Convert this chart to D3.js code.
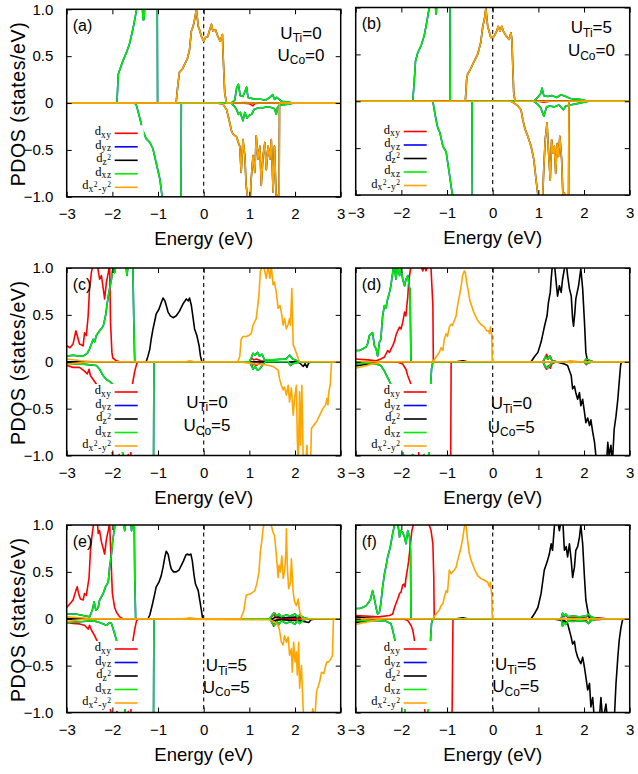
<!DOCTYPE html>
<html><head><meta charset="utf-8">
<script src="https://cdn.jsdelivr.net/npm/d3@7/dist/d3.min.js"></script>
<style>body{margin:0;background:#fff}svg{display:block}</style>
</head><body>
<svg id="chart" width="638" height="774"></svg>
<script>
// ---------- tick values / labels ----------
const energyTicks = [-3,-2,-1,0,1,2,3];
const energyTickLabels = ["\u22123","\u22122","\u22121","0","1","2","3"];
const pdosTicks = [-1,-0.5,0,0.5,1];
const pdosTickLabels = ["\u22121.0","\u22120.5","0","0.5","1.0"];
const orbitals = ["xy","yz","z2","xz","x2y2"];
const orbitalColors = ["#ff0000","#0000ff","#000000","#00ee00","#ffa500"];
const panelLetters = ["(a)","(b)","(c)","(d)","(e)","(f)"];
const uTiValues = [0,5,0,0,5,5];
const uCoValues = [0,0,5,5,5,5];

// ---------- panel (a): U_Ti=0, U_Co=0 ----------
const a_xy_up = [[-3,0],[0.7,0],[0.9,0.005],[1.1,0],[3,0]];
const a_xy_dn = [[-3,0],[0.8,0],[1.0,-0.008],[1.08,-0.03],[1.12,-0.005],[1.3,0],[3,0]];
const a_xz_up = [[-3,0],[-1.95,0],[-1.90,0],[-1.87,0.31],[-1.82,0.38],[-1.77,0.45],[-1.69,0.54],[-1.62,0.64],[-1.55,0.79],[-1.51,0.89],[-1.47,1.0],[-1.44,1.15],[-1.36,1.2],[-1.33,0.89],[-1.31,0.89],[-1.28,1.1],[-1.2,1.3],[-1.1,1.4],[-1.02,1.5],[-1.01,0],[0.6,0],[0.68,0.03],[0.72,0.16],[0.76,0.2],[0.80,0.08],[0.86,0.07],[0.9,0.12],[0.94,0.17],[0.97,0.06],[1.05,0.05],[1.15,0.04],[1.25,0.04],[1.35,0.03],[1.45,0.06],[1.51,0.09],[1.55,0.04],[1.6,0.06],[1.7,0.02],[1.85,0.01],[1.95,0],[3,0]];
const a_xz_dn = [[-3,0],[-1.51,0],[-1.47,-0.03],[-1.44,-0.085],[-1.40,-0.16],[-1.36,-0.24],[-1.33,-0.30],[-1.26,-0.38],[-1.18,-0.42],[-1.11,-0.49],[-1.04,-0.64],[-0.96,-0.81],[-0.91,-1.0],[-0.88,-1.3],[-0.7,-1.5],[-0.5,-1.4],[-0.49,0],[0.6,0],[0.68,-0.04],[0.72,-0.07],[0.76,-0.12],[0.80,-0.10],[0.86,-0.19],[0.90,-0.10],[0.95,-0.16],[1.0,-0.13],[1.05,-0.12],[1.1,-0.07],[1.2,-0.05],[1.3,-0.05],[1.4,-0.04],[1.5,-0.05],[1.55,-0.06],[1.59,-0.12],[1.62,-0.04],[1.7,-0.02],[1.9,-0.01],[1.95,0],[3,0]];
const a_yz_up = a_xz_up;   // degenerate with d_xz
const a_yz_dn = a_xz_dn;
const a_x2y2_up = [[-3,0],[-0.62,0],[-0.60,0.02],[-0.56,0.22],[-0.53,0.33],[-0.47,0.36],[-0.42,0.41],[-0.36,0.47],[-0.31,0.57],[-0.27,0.77],[-0.23,0.82],[-0.20,0.89],[-0.16,1.0],[-0.12,0.82],[-0.09,0.78],[-0.05,0.71],[0,0.66],[0.04,0.70],[0.09,0.71],[0.13,0.78],[0.17,0.84],[0.20,0.77],[0.26,0.78],[0.31,0.71],[0.36,0.66],[0.41,0.73],[0.42,0.57],[0.46,0.11],[0.50,0],[3,0]];
const a_x2y2_dn = [[-3,0],[0.28,0],[0.42,-0.01],[0.50,-0.07],[0.57,-0.21],[0.61,-0.30],[0.64,-0.33],[0.72,-0.36],[0.77,-0.44],[0.79,-0.46],[0.82,-0.74],[0.86,-0.39],[0.90,-0.56],[0.93,-0.88],[0.97,-1.05],[1.01,-1.1],[1.04,-0.81],[1.08,-0.56],[1.12,-0.74],[1.15,-0.35],[1.19,-0.60],[1.23,-0.46],[1.26,-0.88],[1.30,-0.56],[1.34,-0.42],[1.37,-0.71],[1.41,-0.46],[1.45,-0.60],[1.48,-0.39],[1.52,-0.95],[1.55,-0.46],[1.59,-1.05],[1.63,-0.98],[1.65,-1.2],[1.66,0],[3,0]];
const a_z2_up = a_x2y2_up;   // degenerate with d_x2-y2
const a_z2_dn = a_x2y2_dn;

// ---------- panel (b): U_Ti=5, U_Co=0 ----------
const b_xy_up = [[-3,0],[1.0,0],[1.1,0.005],[1.2,0],[3,0]];
const b_xy_dn = [[-3,0],[1.0,0],[1.12,-0.01],[1.25,0],[3,0]];
const b_xz_up = [[-3,0],[-1.77,0],[-1.75,0],[-1.72,0.20],[-1.69,0.43],[-1.64,0.52],[-1.57,0.59],[-1.50,0.70],[-1.46,0.80],[-1.42,0.91],[-1.39,1.0],[-1.34,1.2],[-1.27,1.1],[-1.24,0.93],[-1.21,1.1],[-1.1,1.3],[-0.94,1.5],[-0.93,0],[0.9,0],[0.98,0.04],[1.05,0.08],[1.08,0.14],[1.12,0.06],[1.2,0.05],[1.3,0.06],[1.4,0.04],[1.5,0.07],[1.6,0.05],[1.7,0.03],[1.9,0.02],[2.1,0],[3,0]];
const b_xz_dn = [[-3,0],[-1.33,0],[-1.31,0],[-1.28,-0.09],[-1.24,-0.20],[-1.20,-0.29],[-1.16,-0.33],[-1.09,-0.48],[-1.02,-0.54],[-0.95,-0.77],[-0.91,-0.91],[-0.88,-1.0],[-0.85,-1.2],[-0.6,-1.4],[-0.46,-1.3],[-0.45,0],[0.9,0],[0.98,-0.03],[1.05,-0.07],[1.12,-0.16],[1.18,-0.06],[1.25,-0.05],[1.35,-0.06],[1.45,-0.04],[1.55,-0.09],[1.6,-0.05],[1.7,-0.04],[1.9,-0.02],[2.1,0],[3,0]];
const b_yz_up = b_xz_up;
const b_yz_dn = b_xz_dn;
const b_x2y2_up = [[-3,0],[-0.62,0],[-0.60,0.0],[-0.57,0.23],[-0.55,0.29],[-0.51,0.32],[-0.47,0.36],[-0.40,0.43],[-0.33,0.50],[-0.26,0.63],[-0.22,0.79],[-0.18,0.88],[-0.15,0.99],[-0.11,0.80],[-0.07,0.73],[-0.04,0.68],[0.01,0.68],[0.05,0.71],[0.09,0.75],[0.12,0.80],[0.16,0.75],[0.20,0.80],[0.23,0.75],[0.29,0.70],[0.36,0.66],[0.40,0.73],[0.42,0.66],[0.46,0.09],[0.49,0],[3,0]];
const b_x2y2_dn = [[-3,0],[0.40,0],[0.47,-0.02],[0.55,-0.05],[0.62,-0.09],[0.66,-0.20],[0.71,-0.30],[0.77,-0.375],[0.84,-0.48],[0.90,-0.62],[0.95,-0.84],[0.99,-1.0],[1.03,-1.15],[1.08,-1.2],[1.12,-0.70],[1.15,-0.41],[1.19,-0.23],[1.22,-0.52],[1.26,-0.84],[1.29,-0.41],[1.32,-0.55],[1.35,-0.48],[1.38,-0.77],[1.41,-0.45],[1.44,-0.59],[1.47,-0.375],[1.51,-0.625],[1.54,-1.05],[1.57,-0.98],[1.60,-1.15],[1.66,-1.15],[1.67,0],[3,0]];
const b_z2_up = b_x2y2_up;
const b_z2_dn = b_x2y2_dn;

// ---------- panel (c): U_Ti=0, U_Co=5 ----------
const c_xy_up = [[-3,0.17],[-2.93,0.15],[-2.86,0.19],[-2.80,0.33],[-2.77,0.28],[-2.72,0.19],[-2.64,0.17],[-2.61,0.31],[-2.57,0.28],[-2.53,0.49],[-2.50,0.78],[-2.46,0.95],[-2.42,1.05],[-2.35,1.1],[-2.28,0.88],[-2.24,0.92],[-2.20,0.78],[-2.17,0.67],[-2.13,0.85],[-2.09,0.95],[-2.06,1.05],[-2.04,0.42],[-2.01,0.10],[-1.99,0.04],[-1.91,0.01],[-1.84,0],[1.0,0],[1.05,0.04],[1.1,0.02],[1.15,0.03],[1.25,0.01],[1.4,0],[3,0]];
const c_xy_dn = [[-3,-0.04],[-2.86,-0.06],[-2.72,-0.06],[-2.61,-0.10],[-2.55,-0.13],[-2.51,-0.08],[-2.48,-0.15],[-2.42,-0.19],[-2.35,-0.24],[-2.25,-0.4],[-2.1,-0.7],[-2.0,-0.98],[-1.95,-1.1],[-1.85,-0.99],[-1.8,-1.1],[-1.72,-1.2],[-1.65,-0.99],[-1.6,-1.1],[-1.56,-0.24],[-1.51,-0.10],[-1.46,-0.01],[-1.40,0],[1.0,0],[1.05,-0.05],[1.1,-0.02],[1.15,-0.04],[1.25,-0.01],[1.4,0],[3,0]];
const c_xz_up = [[-3,0.06],[-2.86,0.07],[-2.72,0.06],[-2.64,0.06],[-2.55,0.09],[-2.50,0.135],[-2.42,0.24],[-2.39,0.21],[-2.35,0.28],[-2.28,0.33],[-2.20,0.38],[-2.15,0.49],[-2.09,0.70],[-2.06,0.78],[-2.02,0.88],[-1.99,0.99],[-1.95,0.95],[-1.90,1.1],[-1.72,1.1],[-1.68,0.92],[-1.64,1.1],[-1.58,1.05],[-1.55,0.99],[-1.53,0.42],[-1.51,0],[1.0,0],[1.04,0.04],[1.08,0.09],[1.12,0.07],[1.18,0.10],[1.22,0.06],[1.28,0.08],[1.33,0.02],[1.5,0.02],[1.8,0.03],[1.88,0.07],[1.95,0.03],[2.1,0],[3,0]];
const c_xz_dn = [[-3,-0.02],[-2.64,-0.025],[-2.35,-0.04],[-2.28,-0.08],[-2.20,-0.15],[-2.13,-0.19],[-2.06,-0.21],[-1.99,-0.24],[-1.9,-0.5],[-1.8,-0.9],[-1.7,-1.2],[-1.3,-1.4],[-1.1,-1.3],[-1.09,0],[1.0,0],[1.04,-0.03],[1.08,-0.08],[1.12,-0.05],[1.18,-0.09],[1.22,-0.08],[1.28,-0.04],[1.35,0],[1.85,0],[1.9,-0.04],[1.95,-0.02],[2.1,0],[3,0]];
const c_yz_up = c_xz_up;
const c_yz_dn = c_xz_dn;
const c_z2_up = [[-3,0],[-1.26,0],[-1.22,0.06],[-1.18,0.135],[-1.15,0.24],[-1.11,0.35],[-1.07,0.44],[-1.04,0.51],[-0.98,0.56],[-0.93,0.63],[-0.89,0.68],[-0.85,0.65],[-0.82,0.60],[-0.78,0.53],[-0.73,0.49],[-0.67,0.47],[-0.60,0.49],[-0.53,0.54],[-0.45,0.62],[-0.38,0.67],[-0.34,0.65],[-0.31,0.68],[-0.27,0.60],[-0.23,0.46],[-0.20,0.35],[-0.15,0.28],[-0.10,0.17],[-0.07,0.06],[-0.04,0],[3,0]];
const c_z2_dn = [[-3,0],[1.9,0],[2.1,-0.01],[2.18,-0.05],[2.22,-0.02],[2.26,-0.06],[2.3,-0.01],[2.4,0],[3,0]];
const c_x2y2_up = [[-3,0.03],[-2.7,0.01],[-2.4,0],[-0.4,0],[-0.3,0.01],[-0.2,0],[0.75,0],[0.79,0.06],[0.82,0.24],[0.86,0.27],[0.93,0.27],[0.99,0.28],[1.04,0.30],[1.08,0.39],[1.15,0.46],[1.21,0.71],[1.24,0.96],[1.30,1.05],[1.37,0.89],[1.41,1.02],[1.45,0.89],[1.48,1.02],[1.52,0.82],[1.55,0.85],[1.59,0.74],[1.63,0.57],[1.67,0.60],[1.70,0.53],[1.74,0.39],[1.77,0.46],[1.81,0.35],[1.85,0.40],[1.88,0.46],[1.90,0.39],[1.93,0.78],[1.96,0.18],[2.01,0.12],[2.07,0.035],[2.10,0],[3,0]];
const c_x2y2_dn = [[-3,-0.03],[-2.7,-0.01],[-2.4,0],[0.75,0],[1.08,-0.02],[1.37,-0.035],[1.52,-0.05],[1.63,-0.09],[1.66,-0.18],[1.70,-0.25],[1.74,-0.30],[1.77,-0.27],[1.81,-0.355],[1.85,-0.25],[1.88,-0.43],[1.92,-0.28],[1.96,-0.57],[1.99,-0.39],[2.03,-0.25],[2.05,-0.82],[2.07,-1.1],[2.10,-0.32],[2.12,-0.89],[2.15,-0.25],[2.18,-1.1],[2.23,-1.1],[2.26,-0.89],[2.28,-1.1],[2.34,-1.1],[2.36,-0.71],[2.39,-0.69],[2.47,-0.64],[2.54,-0.57],[2.61,-0.50],[2.67,-0.46],[2.70,-0.39],[2.72,-0.46],[2.74,-0.32],[2.77,-0.25],[2.80,0],[3,0]];

// ---------- panel (d): U_Ti=0, U_Co=5 ----------
const d_xy_up = [[-3,0.03],[-2.73,0.02],[-2.55,0.01],[-2.45,0.03],[-2.37,0.05],[-2.34,0.08],[-2.30,0.12],[-2.26,0.10],[-2.23,0.135],[-2.19,0.17],[-2.15,0.22],[-2.12,0.28],[-2.08,0.33],[-2.04,0.37],[-2.01,0.35],[-1.97,0.42],[-1.93,0.53],[-1.90,0.49],[-1.88,0.60],[-1.86,0.69],[-1.84,0.85],[-1.80,0.99],[-1.76,1.1],[-1.6,1.05],[-1.53,0.97],[-1.50,1.02],[-1.46,0.97],[-1.42,1.05],[-1.35,0.99],[-1.31,0.60],[-1.30,0],[1.1,0],[1.15,0.04],[1.18,0.08],[1.22,0.03],[1.26,0.06],[1.3,0.01],[1.4,0],[2.0,0],[2.05,0.03],[2.1,0.01],[2.2,0],[3,0]];
const d_xy_dn = [[-3,-0.01],[-2.37,0],[-2.08,-0.005],[-1.97,-0.025],[-1.90,-0.08],[-1.86,-0.15],[-1.82,-0.20],[-1.79,-0.24],[-1.7,-0.5],[-1.6,-1.1],[-1.2,-1.3],[-0.95,-1.2],[-0.92,-1.07],[-0.91,0],[1.1,0],[1.15,-0.06],[1.18,-0.08],[1.22,-0.04],[1.26,-0.07],[1.3,-0.02],[1.4,0],[2.0,0],[2.05,-0.03],[2.1,-0.01],[2.2,0],[3,0]];
const d_xz_up = [[-3,0.12],[-2.92,0.12],[-2.85,0.135],[-2.77,0.16],[-2.74,0.19],[-2.70,0.28],[-2.66,0.30],[-2.63,0.31],[-2.59,0.17],[-2.55,0.135],[-2.52,0.06],[-2.48,0.21],[-2.45,0.24],[-2.41,0.49],[-2.37,0.60],[-2.34,0.57],[-2.30,0.67],[-2.26,0.74],[-2.23,0.81],[-2.19,0.95],[-2.16,1.05],[-2.12,0.88],[-2.08,1.02],[-2.04,0.92],[-2.01,1.0],[-1.97,0.88],[-1.93,0.81],[-1.90,0.88],[-1.86,0.92],[-1.82,0.78],[-1.81,0.78],[-1.79,0],[1.1,0],[1.15,0.05],[1.2,0.03],[1.25,0.06],[1.3,0.01],[1.4,0],[2.0,0],[2.05,0.03],[2.1,0.02],[2.2,0],[3,0]];
const d_xz_dn = [[-3,-0.025],[-2.73,-0.01],[-2.55,-0.025],[-2.45,-0.04],[-2.37,-0.10],[-2.30,-0.17],[-2.23,-0.24],[-2.1,-0.5],[-2.0,-0.9],[-1.9,-1.1],[-1.75,-0.99],[-1.65,-1.1],[-1.5,-0.99],[-1.45,-1.2],[-1.40,-1.0],[-1.38,-0.6],[-1.36,-0.26],[-1.34,-0.08],[-1.31,0],[1.1,0],[1.15,-0.05],[1.2,-0.07],[1.25,-0.04],[1.3,-0.01],[1.4,0],[2.0,0],[2.05,-0.02],[2.1,-0.01],[2.2,0],[3,0]];
const d_yz_up = d_xz_up;
const d_yz_dn = d_xz_dn;
const d_z2_up = [[-3,0],[-0.8,0],[-0.65,0.01],[-0.55,0],[0.84,0],[0.91,0.05],[0.99,0.10],[1.06,0.21],[1.13,0.37],[1.19,0.49],[1.22,0.63],[1.26,0.74],[1.28,0.88],[1.30,0.99],[1.34,1.1],[1.39,0.85],[1.42,0.70],[1.46,0.81],[1.50,0.74],[1.53,0.88],[1.57,0.99],[1.60,1.1],[1.64,0.92],[1.68,0.78],[1.72,0.70],[1.75,0.46],[1.77,0.38],[1.80,0.53],[1.82,0.67],[1.85,0.74],[1.88,0.81],[1.91,0.92],[1.93,0.99],[1.97,0.78],[2.01,0.42],[2.04,0.10],[2.08,0],[3,0]];
const d_z2_dn = [[-3,-0.045],[-2.8,-0.03],[-2.6,-0.015],[-2.4,0],[1.28,0],[1.42,-0.005],[1.57,-0.025],[1.64,-0.04],[1.72,-0.15],[1.75,-0.29],[1.79,-0.26],[1.82,-0.33],[1.86,-0.40],[1.90,-0.33],[1.93,-0.47],[1.97,-0.40],[2.01,-0.54],[2.04,-0.65],[2.08,-0.60],[2.12,-0.68],[2.15,-0.62],[2.19,-0.75],[2.23,-0.86],[2.26,-1.0],[2.3,-1.1],[2.45,-1.0],[2.49,-1.1],[2.52,-0.86],[2.55,-1.0],[2.59,-0.89],[2.62,-1.1],[2.66,-0.72],[2.70,-0.58],[2.74,-0.40],[2.77,-0.22],[2.80,-0.04],[2.82,0],[3,0]];
const d_x2y2_up = [[-3,0],[-1.31,0],[-1.24,0.05],[-1.17,0.10],[-1.13,0.15],[-1.09,0.12],[-1.06,0.24],[-1.02,0.30],[-0.99,0.27],[-0.95,0.37],[-0.91,0.40],[-0.88,0.39],[-0.84,0.44],[-0.80,0.49],[-0.77,0.60],[-0.73,0.70],[-0.69,0.81],[-0.66,0.92],[-0.62,0.97],[-0.60,0.95],[-0.57,0.85],[-0.53,0.74],[-0.50,0.65],[-0.45,0.58],[-0.40,0.51],[-0.33,0.44],[-0.26,0.40],[-0.18,0.37],[-0.13,0.33],[-0.09,0.33],[-0.07,0.30],[-0.05,0.37],[-0.02,0.28],[-0.01,0],[1.6,0],[1.7,0.01],[1.9,0],[3,0]];
const d_x2y2_dn = [[-3,-0.07],[-2.8,-0.045],[-2.6,-0.02],[-2.4,0],[1.6,0],[1.7,-0.01],[1.9,0],[3,0]];

// ---------- panel (e): U_Ti=5, U_Co=5 ----------
const e_xy_up = [[-3,0.12],[-2.93,0.16],[-2.86,0.20],[-2.80,0.30],[-2.77,0.34],[-2.74,0.27],[-2.70,0.21],[-2.64,0.20],[-2.61,0.27],[-2.57,0.25],[-2.51,0.44],[-2.48,0.73],[-2.45,0.87],[-2.42,0.98],[-2.38,1.1],[-2.33,1.05],[-2.31,0.91],[-2.28,0.94],[-2.24,0.82],[-2.20,0.75],[-2.17,0.69],[-2.13,0.85],[-2.09,0.94],[-2.06,1.02],[-2.04,0.77],[-2.00,0.27],[-1.95,0.12],[-1.91,0.07],[-1.84,0.02],[-1.77,0],[1.45,0],[1.5,0.03],[1.53,0.06],[1.56,0.02],[1.6,0.01],[1.7,0],[3,0]];
const e_xy_dn = [[-3,-0.04],[-2.86,-0.05],[-2.72,-0.055],[-2.61,-0.07],[-2.53,-0.11],[-2.50,-0.07],[-2.46,-0.12],[-2.39,-0.18],[-2.34,-0.23],[-2.2,-0.5],[-2.05,-0.95],[-1.99,-1.1],[-1.9,-0.99],[-1.8,-1.15],[-1.65,-0.99],[-1.6,-1.1],[-1.55,-0.23],[-1.51,-0.11],[-1.47,-0.02],[-1.43,0],[1.45,0],[1.5,-0.04],[1.53,-0.08],[1.56,-0.03],[1.6,-0.01],[1.7,0],[3,0]];
const e_xz_up = [[-3,0.05],[-2.8,0.05],[-2.64,0.035],[-2.50,0.02],[-2.44,0.09],[-2.40,0.18],[-2.36,0.09],[-2.31,0.12],[-2.28,0.20],[-2.20,0.27],[-2.15,0.34],[-2.09,0.39],[-2.06,0.55],[-2.02,0.69],[-1.99,0.84],[-1.95,0.98],[-1.9,1.1],[-1.76,1.05],[-1.73,0.94],[-1.70,1.05],[-1.60,1.05],[-1.58,0.94],[-1.55,1.05],[-1.52,0.98],[-1.51,0.44],[-1.49,0],[1.45,0],[1.5,0.04],[1.55,0.06],[1.6,0.03],[1.65,0.05],[1.7,0.02],[1.8,0.04],[1.9,0.03],[2.0,0.05],[2.05,0.02],[2.1,0.04],[2.2,0.01],[2.3,0],[3,0]];
const e_xz_dn = [[-3,-0.04],[-2.64,-0.03],[-2.42,-0.02],[-2.28,-0.04],[-2.13,-0.07],[-2.06,-0.04],[-2.02,-0.05],[-1.95,-0.16],[-1.91,-0.23],[-1.8,-0.6],[-1.7,-1.1],[-1.3,-1.3],[-1.1,-1.2],[-1.09,0],[1.45,0],[1.5,-0.05],[1.55,-0.07],[1.6,-0.03],[1.65,-0.06],[1.7,-0.02],[1.8,-0.05],[1.9,-0.03],[2.0,-0.06],[2.05,-0.02],[2.1,-0.05],[2.2,-0.01],[2.3,0],[3,0]];
const e_yz_up = e_xz_up;
const e_yz_dn = e_xz_dn;
const e_z2_up = [[-3,0],[-1.22,0],[-1.18,0.04],[-1.12,0.16],[-1.07,0.27],[-1.04,0.34],[-0.98,0.39],[-0.93,0.46],[-0.89,0.55],[-0.85,0.66],[-0.82,0.72],[-0.78,0.69],[-0.74,0.59],[-0.71,0.53],[-0.66,0.50],[-0.60,0.50],[-0.54,0.52],[-0.49,0.57],[-0.44,0.62],[-0.39,0.68],[-0.36,0.69],[-0.32,0.68],[-0.28,0.69],[-0.25,0.62],[-0.21,0.46],[-0.18,0.37],[-0.12,0.30],[-0.09,0.21],[-0.05,0.09],[-0.03,0.02],[-0.01,0],[1.5,0],[1.6,0.02],[1.75,0.01],[2.1,0.02],[2.2,0],[3,0]];
const e_z2_dn = [[-3,0],[1.4,0],[1.55,-0.02],[1.65,-0.01],[2.1,-0.02],[2.3,-0.04],[2.35,-0.01],[2.5,0],[3,0]];
const e_x2y2_up = [[-3,0.02],[-2.7,0.01],[-2.4,0],[-0.45,0],[-0.3,0.01],[-0.15,0],[0.80,0],[0.82,0.01],[0.88,0.09],[0.93,0.25],[1.04,0.27],[1.12,0.30],[1.17,0.39],[1.21,0.50],[1.24,0.71],[1.27,0.82],[1.30,0.96],[1.34,1.05],[1.45,1.05],[1.52,0.92],[1.55,0.89],[1.58,0.74],[1.61,0.57],[1.63,0.44],[1.65,0.57],[1.68,0.50],[1.71,0.67],[1.74,0.43],[1.77,0.50],[1.80,0.71],[1.81,0.96],[1.83,0.57],[1.86,0.32],[1.90,0.39],[1.92,0.64],[1.96,0.28],[1.99,0.18],[2.03,0.14],[2.07,0.21],[2.09,0.11],[2.12,0.04],[2.16,0],[3,0]];
const e_x2y2_dn = [[-3,-0.03],[-2.7,-0.01],[-2.4,0],[1.45,-0.01],[1.55,-0.035],[1.63,-0.07],[1.66,-0.12],[1.70,-0.25],[1.74,-0.28],[1.77,-0.18],[1.81,-0.25],[1.85,-0.195],[1.88,-0.39],[1.92,-0.32],[1.94,-0.57],[1.97,-0.25],[2.00,-0.46],[2.03,-0.355],[2.05,-0.60],[2.08,-0.25],[2.10,-0.74],[2.14,-0.50],[2.18,-0.99],[2.21,-1.1],[2.32,-1.17],[2.39,-0.96],[2.43,-1.1],[2.47,-0.78],[2.54,-0.67],[2.58,-0.57],[2.63,-0.585],[2.67,-0.50],[2.70,-0.46],[2.74,-0.46],[2.78,-0.43],[2.82,-0.39],[2.84,0],[3,0]];

// ---------- panel (f): U_Ti=5, U_Co=5 ----------
const f_xy_up = [[-3,0.035],[-2.5,0.02],[-2.26,0.035],[-2.19,0.05],[-2.15,0.12],[-2.12,0.16],[-2.08,0.21],[-2.04,0.27],[-2.01,0.28],[-1.97,0.36],[-1.94,0.37],[-1.92,0.34],[-1.90,0.43],[-1.86,0.55],[-1.84,0.62],[-1.80,0.80],[-1.77,0.94],[-1.73,1.02],[-1.6,1.05],[-1.45,1.03],[-1.39,1.0],[-1.35,0.94],[-1.31,0.80],[-1.29,0.44],[-1.28,0],[1.5,0],[1.53,0.05],[1.56,0.02],[1.6,0.04],[1.65,0.01],[1.75,0.02],[1.85,0.01],[2.05,0.02],[2.1,0.04],[2.15,0.01],[2.3,0.01],[2.5,0],[3,0]];
const f_xy_dn = [[-3,-0.02],[-2.5,-0.01],[-2.0,0],[-1.90,-0.01],[-1.86,-0.02],[-1.79,-0.07],[-1.75,-0.12],[-1.72,-0.21],[-1.6,-0.6],[-1.45,-1.1],[-1.0,-1.2],[-0.89,-1.05],[-0.87,0],[1.5,0],[1.53,-0.07],[1.56,-0.03],[1.6,-0.05],[1.65,-0.02],[1.75,-0.02],[2.05,-0.02],[2.1,-0.05],[2.15,-0.01],[2.3,-0.01],[2.5,0],[3,0]];
const f_xz_up = [[-3,0.11],[-2.92,0.11],[-2.85,0.12],[-2.77,0.14],[-2.74,0.16],[-2.68,0.20],[-2.63,0.30],[-2.59,0.21],[-2.55,0.11],[-2.52,0.05],[-2.48,0.07],[-2.45,0.16],[-2.41,0.34],[-2.37,0.48],[-2.34,0.55],[-2.30,0.66],[-2.26,0.73],[-2.23,0.80],[-2.19,0.91],[-2.15,1.0],[-2.1,1.05],[-2.06,0.95],[-2.04,0.87],[-2.01,0.94],[-1.97,0.92],[-1.93,0.87],[-1.90,0.80],[-1.86,0.94],[-1.82,0.87],[-1.80,0.73],[-1.79,0],[1.5,0],[1.53,0.06],[1.56,0.03],[1.6,0.05],[1.65,0.02],[1.75,0.03],[1.9,0.02],[2.05,0.03],[2.1,0.05],[2.15,0.02],[2.3,0],[3,0]];
const f_xz_dn = [[-3,-0.02],[-2.37,-0.02],[-2.23,-0.05],[-2.19,-0.12],[-2.15,-0.21],[-2.0,-0.6],[-1.9,-1.1],[-1.45,-1.2],[-1.38,-0.8],[-1.36,-0.21],[-1.34,-0.05],[-1.31,0],[1.5,0],[1.53,-0.08],[1.56,-0.04],[1.6,-0.06],[1.65,-0.02],[1.75,-0.03],[1.9,-0.02],[2.05,-0.03],[2.1,-0.05],[2.15,-0.02],[2.3,0],[3,0]];
const f_yz_up = f_xz_up;
const f_yz_dn = f_xz_dn;
const f_z2_up = [[-3,0.02],[-2.8,0.01],[-2.5,0],[-0.8,0],[-0.65,0.01],[-0.55,0],[0.84,0],[0.91,0.05],[0.99,0.12],[1.06,0.27],[1.13,0.52],[1.20,0.62],[1.24,0.69],[1.28,0.80],[1.31,0.73],[1.35,0.98],[1.40,1.1],[1.46,0.94],[1.50,1.05],[1.54,1.0],[1.57,0.73],[1.61,0.77],[1.64,0.66],[1.68,0.80],[1.72,0.62],[1.75,0.44],[1.79,0.55],[1.82,0.73],[1.86,0.77],[1.90,0.87],[1.93,1.0],[1.97,0.80],[2.01,0.44],[2.04,0.20],[2.08,0.09],[2.12,0],[3,0]];
const f_z2_dn = [[-3,-0.04],[-2.8,-0.025],[-2.6,-0.01],[-2.4,0],[1.28,0],[1.57,-0.02],[1.64,-0.05],[1.72,-0.20],[1.75,-0.27],[1.79,-0.24],[1.82,-0.34],[1.86,-0.41],[1.93,-0.48],[1.97,-0.41],[2.01,-0.52],[2.04,-0.62],[2.08,-0.76],[2.12,-0.69],[2.15,-0.94],[2.19,-0.84],[2.23,-1.1],[2.30,-1.0],[2.33,-1.1],[2.37,-0.84],[2.41,-1.1],[2.48,-0.91],[2.52,-1.1],[2.6,-1.0],[2.66,-1.1],[2.70,-0.69],[2.74,-0.41],[2.77,-0.23],[2.81,-0.09],[2.85,0],[3,0]];
const f_x2y2_up = [[-3,0],[-1.31,0],[-1.24,0.05],[-1.17,0.09],[-1.13,0.14],[-1.09,0.16],[-1.06,0.23],[-1.02,0.30],[-0.99,0.28],[-0.95,0.52],[-0.91,0.48],[-0.88,0.50],[-0.84,0.52],[-0.80,0.55],[-0.77,0.62],[-0.73,0.69],[-0.69,0.77],[-0.66,0.85],[-0.62,0.98],[-0.60,1.0],[-0.58,0.98],[-0.55,0.84],[-0.51,0.69],[-0.47,0.62],[-0.40,0.53],[-0.33,0.46],[-0.26,0.43],[-0.18,0.41],[-0.11,0.39],[-0.07,0.34],[-0.05,0.39],[-0.02,0.25],[-0.01,0],[3,0]];
const f_x2y2_dn = [[-3,-0.06],[-2.8,-0.04],[-2.6,-0.02],[-2.4,0],[3,0]];

// ---------- assemble ----------
const panelSeries = [
  {up:[a_xy_up,a_yz_up,a_z2_up,a_xz_up,a_x2y2_up], dn:[a_xy_dn,a_yz_dn,a_z2_dn,a_xz_dn,a_x2y2_dn]},
  {up:[b_xy_up,b_yz_up,b_z2_up,b_xz_up,b_x2y2_up], dn:[b_xy_dn,b_yz_dn,b_z2_dn,b_xz_dn,b_x2y2_dn]},
  {up:[c_xy_up,c_yz_up,c_z2_up,c_xz_up,c_x2y2_up], dn:[c_xy_dn,c_yz_dn,c_z2_dn,c_xz_dn,c_x2y2_dn]},
  {up:[d_xy_up,d_yz_up,d_z2_up,d_xz_up,d_x2y2_up], dn:[d_xy_dn,d_yz_dn,d_z2_dn,d_xz_dn,d_x2y2_dn]},
  {up:[e_xy_up,e_yz_up,e_z2_up,e_xz_up,e_x2y2_up], dn:[e_xy_dn,e_yz_dn,e_z2_dn,e_xz_dn,e_x2y2_dn]},
  {up:[f_xy_up,f_yz_up,f_z2_up,f_xz_up,f_x2y2_up], dn:[f_xy_dn,f_yz_dn,f_z2_dn,f_xz_dn,f_x2y2_dn]}
];

// ---------- layout (pixels) ----------
const W = 274, H = 187.5;
const panelPos = [[66.7,9.3],[355.7,7.5],[66.7,268],[355.7,268],[66.7,525],[355.7,525]];
const uPos = [[234.3,23.7,45.7],[235.7,19.5,42.5],[140.3,133.7,157],[155.6,135,158.7],[159.6,140,161.7],[160,139,161]];
const legendParts = [
  [["d",0],["xy",1]],
  [["d",0],["yz",1]],
  [["d",0],["z",1],["2",2]],
  [["d",0],["xz",1]],
  [["d",0],["x",1],["2",2],["-y",1],["2",2]]
];
const sansFont = "'Liberation Sans', Arial, Helvetica, sans-serif";
const serifFont = "'Liberation Serif', 'Times New Roman', serif";

const svg = d3.select("#chart");
const x = d3.scaleLinear().domain([-3,3]).range([0,W]);
const y = d3.scaleLinear().domain([-1,1]).range([H,0]);
const line = d3.line().x(d => x(d[0])).y(d => y(d[1]));

panelSeries.forEach((ps, pi) => {
  const [px, py] = panelPos[pi];
  const col = pi % 2;
  const g = svg.append("g").attr("transform", `translate(${px},${py})`);
  const clipId = "clip" + pi;
  g.append("clipPath").attr("id", clipId).append("rect").attr("width", W).attr("height", H);

  // dashed Fermi level
  g.append("line").attr("x1", x(0)).attr("x2", x(0)).attr("y1", 0).attr("y2", H)
    .attr("stroke", "#000").attr("stroke-width", 1.1).attr("stroke-dasharray", "4,3.5");

  const curves = g.append("g").attr("clip-path", `url(#${clipId})`);
  orbitals.forEach((o, oi) => {
    [ps.up[oi], ps.dn[oi]].forEach(arr => {
      curves.append("path").datum(arr).attr("d", line)
        .attr("fill", "none").attr("stroke", orbitalColors[oi])
        .attr("stroke-width", 1.6).attr("stroke-linejoin", "round");
    });
  });

  // opaque key box
  g.append("rect").attr("x", 10).attr("y", 116).attr("width", 67).attr("height", 68).attr("fill", "#fff");
  const key = g.append("g");
  const rowY = [124, 137.5, 151, 164.5, 178];
  const shifts = [0, 2.5, -2.5];
  const sizes = [12.5, 9.5, 7.5];
  orbitals.forEach((o, oi) => {
    key.append("line").attr("x1", 48).attr("x2", 71).attr("y1", rowY[oi]).attr("y2", rowY[oi])
      .attr("stroke", orbitalColors[oi]).attr("stroke-width", 1.6);
    const t = key.append("text").attr("x", 45).attr("y", rowY[oi] + 2).attr("text-anchor", "end")
      .attr("font-family", serifFont).attr("font-size", 12.5).attr("fill", "#000");
    let cur = 0;
    legendParts[oi].forEach(([txt, lv]) => {
      t.append("tspan").attr("dy", shifts[lv] - cur).attr("font-size", sizes[lv])
        .attr("letter-spacing", lv === 0 ? 0 : 0.6).text(txt);
      cur = shifts[lv];
    });
  });

  // axes with inward ticks
  const axB = d3.axisBottom(x).tickValues(energyTicks).tickSize(-5).tickPadding(12)
    .tickFormat((d, i) => energyTickLabels[i]);
  const axT = d3.axisTop(x).tickValues(energyTicks).tickSize(-5).tickFormat("");
  const axL = d3.axisLeft(y).tickValues(pdosTicks).tickSize(-5).tickPadding(13.4)
    .tickFormat((d, i) => col === 0 ? pdosTickLabels[i] : "");
  const axR = d3.axisRight(y).tickValues(pdosTicks).tickSize(-5).tickFormat("");
  const gb = g.append("g").attr("transform", `translate(0,${H})`).call(axB);
  const gt = g.append("g").call(axT);
  const gl = g.append("g").call(axL);
  const gr = g.append("g").attr("transform", `translate(${W},0)`).call(axR);
  [gb, gt, gl, gr].forEach(a => {
    a.select(".domain").remove();
    a.selectAll(".tick line").attr("stroke", "#000").attr("stroke-width", 1);
    a.selectAll("text").attr("font-family", sansFont).attr("font-size", 15).attr("fill", "#000");
  });

  // frame
  g.append("rect").attr("width", W).attr("height", H).attr("fill", "none")
    .attr("stroke", "#000").attr("stroke-width", 1.5);

  // panel letter
  g.append("text").attr("x", 6).attr("y", 21.5).attr("font-family", sansFont)
    .attr("font-size", 16).text(panelLetters[pi]);

  // U annotations
  const [ucx, uy1, uy2] = uPos[pi];
  [["Ti", uTiValues[pi], uy1], ["Co", uCoValues[pi], uy2]].forEach(([el, val, yy]) => {
    const t = g.append("text").attr("x", ucx).attr("y", yy + 6).attr("text-anchor", "middle")
      .attr("font-family", sansFont).attr("font-size", 17).attr("fill", "#000");
    t.append("tspan").text("U");
    t.append("tspan").attr("dy", 3.5).attr("font-size", 12).text(el);
    t.append("tspan").attr("dy", -3.5).text("=" + val);
  });

  // axis titles
  g.append("text").attr("x", W / 2).attr("y", H + 48.5).attr("text-anchor", "middle")
    .attr("font-family", sansFont).attr("font-size", 18.5).text("Energy (eV)");
  if (col === 0) {
    g.append("text").attr("transform", `translate(${25 - px},${H / 2 + 1}) rotate(-90)`)
      .attr("text-anchor", "middle").attr("font-family", sansFont).attr("font-size", 19.5)
      .attr("letter-spacing", 0.6).text("PDOS (states/eV)");
  }
});
</script>
</body></html>
